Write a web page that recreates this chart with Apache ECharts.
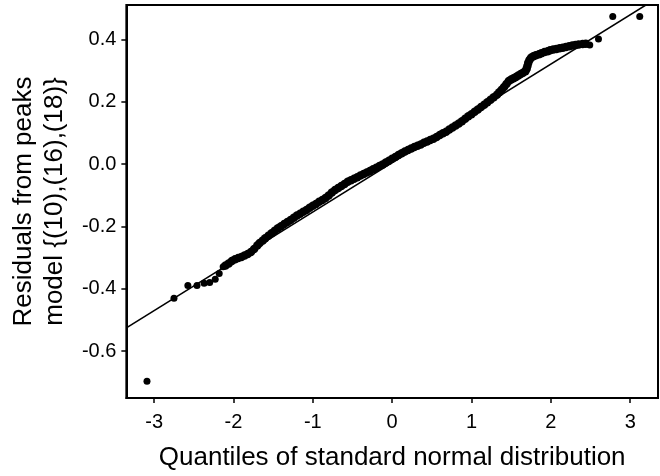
<!DOCTYPE html>
<html>
<head>
<meta charset="utf-8">
<script src="https://cdn.jsdelivr.net/npm/echarts@6/dist/echarts.min.js"></script>
<style>
html,body{margin:0;padding:0;background:#fff;}
#chart{width:660px;height:476px;}
</style>
</head>
<body>
<div id="chart"></div>
<script>
// Tail points (isolated dots)
const tailQuantiles = [-3.09, -2.75, -2.575, -2.46, -2.37, -2.30, -2.23, -2.18, -2.13, 2.49, 2.60, 2.78, 3.12];
const tailResiduals = [-0.696, -0.430, -0.389, -0.389, -0.382, -0.380, -0.369, -0.351, -0.329, 0.382, 0.401, 0.473, 0.473];
// Body points (dense band)
const bodyQuantiles = [
  -2.10, -2.06, -2.02, -1.98, -1.94, -1.90, -1.86, -1.82, -1.78, -1.74,
  -1.70, -1.67, -1.63, -1.60, -1.56, -1.52, -1.48, -1.44, -1.40, -1.36,
  -1.32, -1.28, -1.24, -1.20, -1.16, -1.12, -1.08, -1.04, -1.00, -0.96,
  -0.92, -0.88, -0.84, -0.80, -0.76, -0.72, -0.68, -0.64, -0.60, -0.56,
  -0.52, -0.48, -0.44, -0.40, -0.36, -0.32, -0.28, -0.24, -0.20, -0.16,
  -0.12, -0.08, -0.04, 0.00, 0.04, 0.08, 0.12, 0.16, 0.20, 0.24,
  0.28, 0.32, 0.36, 0.40, 0.44, 0.48, 0.52, 0.56, 0.60, 0.64,
  0.68, 0.72, 0.76, 0.80, 0.84, 0.88, 0.92, 0.96, 1.00, 1.04,
  1.08, 1.12, 1.16, 1.20, 1.24, 1.28, 1.32, 1.35, 1.38, 1.41,
  1.44, 1.47, 1.50, 1.53, 1.56, 1.59, 1.62, 1.65, 1.68, 1.695,
  1.705, 1.715, 1.73, 1.75, 1.78, 1.81, 1.85, 1.88, 1.92, 1.96,
  1.99, 2.03, 2.07, 2.11, 2.15, 2.19, 2.23, 2.27, 2.31, 2.35,
  2.40, 2.44
];
const bodyResiduals = [
  -0.325, -0.319, -0.311, -0.305, -0.301, -0.298, -0.293, -0.288, -0.282, -0.272,
  -0.261, -0.253, -0.245, -0.238, -0.230, -0.222, -0.214, -0.206, -0.199, -0.192,
  -0.186, -0.179, -0.172, -0.165, -0.159, -0.153, -0.147, -0.140, -0.134, -0.128,
  -0.121, -0.115, -0.109, -0.101, -0.091, -0.083, -0.077, -0.070, -0.064, -0.057,
  -0.052, -0.047, -0.042, -0.037, -0.032, -0.027, -0.022, -0.017, -0.012, -0.006,
  -0.001, 0.005, 0.011, 0.017, 0.023, 0.029, 0.035, 0.040, 0.045, 0.050,
  0.055, 0.059, 0.063, 0.068, 0.072, 0.077, 0.081, 0.087, 0.093, 0.099,
  0.104, 0.111, 0.117, 0.124, 0.130, 0.137, 0.145, 0.153, 0.160, 0.168,
  0.175, 0.183, 0.190, 0.198, 0.206, 0.214, 0.222, 0.230, 0.238, 0.247,
  0.257, 0.266, 0.271, 0.275, 0.279, 0.284, 0.289, 0.293, 0.298, 0.306,
  0.315, 0.325, 0.334, 0.341, 0.346, 0.349, 0.352, 0.355, 0.359, 0.362,
  0.365, 0.367, 0.369, 0.371, 0.373, 0.375, 0.378, 0.380, 0.382, 0.383,
  0.385, 0.386
];
// Reference line endpoints
const refLineX = [-3.35, 3.35];
const refLineY = [-0.525, 0.534];
// Tick labels
const xTicks = [-3, -2, -1, 0, 1, 2, 3];
const yTicks = [-0.6, -0.4, -0.2, 0.0, 0.2, 0.4];

const FONT = '"Liberation Sans", Arial, Helvetica, sans-serif';
const chart = echarts.init(document.getElementById('chart'), null, {renderer: 'canvas'});

const tailPts = tailQuantiles.map((q, i) => [q, tailResiduals[i]]);
const bodyPts = bodyQuantiles.map((q, i) => [q, bodyResiduals[i]]);
const line = refLineX.map((x, i) => [x, refLineY[i]]);

chart.setOption({
  animation: false,
  backgroundColor: '#fff',
  grid: {
    left: 124, top: 5, right: 2, bottom: 74,
    show: true, borderColor: '#000', borderWidth: 2, backgroundColor: 'transparent'
  },
  xAxis: {
    type: 'value', min: -3.35, max: 3.35,
    name: 'Quantiles of standard normal distribution',
    nameLocation: 'middle', nameGap: 47,
    nameTextStyle: {fontFamily: FONT, fontSize: 26, color: '#000'},
    axisLine: {show: true, onZero: false, lineStyle: {color: '#000', width: 2}},
    axisTick: {show: true, inside: false, length: 5, lineStyle: {color: '#000', width: 1.5}, customValues: xTicks},
    axisLabel: {show: true, margin: 14, fontFamily: FONT, fontSize: 20, color: '#000', customValues: xTicks,
      formatter: v => String(v)},
    splitLine: {show: false}
  },
  yAxis: {
    type: 'value', min: -0.75, max: 0.51,
    name: 'Residuals from peaks\nmodel {(10),(16),(18)}',
    nameLocation: 'middle', nameGap: 54, nameRotate: 90,
    nameTextStyle: {fontFamily: FONT, fontSize: 26, lineHeight: 31.5, color: '#000', align: 'center'},
    axisLine: {show: true, onZero: false, lineStyle: {color: '#000', width: 2}},
    axisTick: {show: true, inside: false, length: 5, lineStyle: {color: '#000', width: 1.5}, customValues: yTicks},
    axisLabel: {show: true, margin: 10, fontFamily: FONT, fontSize: 20, color: '#000', customValues: yTicks,
      formatter: v => v.toFixed(1)},
    splitLine: {show: false}
  },
  series: [
    {
      type: 'line', data: line, symbol: 'none', clip: true, z: 2,
      lineStyle: {color: '#000', width: 1.6}
    },
    {
      type: 'scatter', data: bodyPts, symbol: 'circle', symbolSize: 8.5, z: 3,
      itemStyle: {color: '#000', opacity: 1}
    },
    {
      type: 'scatter', data: tailPts, symbol: 'circle', symbolSize: 7, z: 3,
      itemStyle: {color: '#000', opacity: 1}
    }
  ]
});
</script>
</body>
</html>
